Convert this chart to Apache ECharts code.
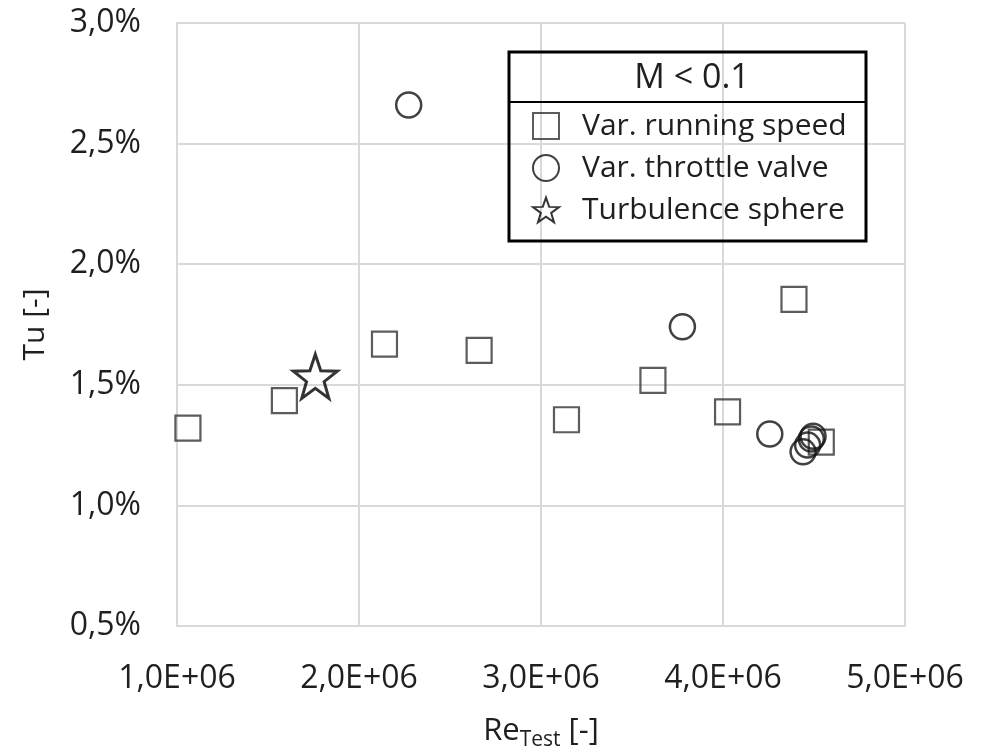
<!DOCTYPE html>
<html>
<head>
<meta charset="utf-8">
<script src="https://cdn.jsdelivr.net/npm/echarts@6/dist/echarts.min.js"></script>
<style>html,body{margin:0;padding:0;background:#fff}#c{width:994px;height:756px}</style>
</head>
<body>
<div id="c"></div>
<script>
// Data (Re in absolute units, Tu in percent)
var squareX = [1.06e6, 1.59e6, 2.14e6, 2.66e6, 3.14e6, 3.615e6, 4.025e6, 4.39e6, 4.54e6];
var squareY = [1.32, 1.434, 1.669, 1.643, 1.355, 1.518, 1.388, 1.854, 1.262];
var circleX = [2.273e6, 3.777e6, 4.257e6, 4.44e6, 4.465e6, 4.485e6, 4.495e6];
var circleY = [2.66, 1.741, 1.296, 1.222, 1.25, 1.275, 1.287];
var starX = [1.76e6];
var starY = [1.535];
var seriesNames = ['Var. running speed', 'Var. throttle valve', 'Turbulence sphere'];
var legendTitle = 'M < 0.1';
var xMin = 1e6, xMax = 5e6, xStep = 1e6;
var yMin = 0.5, yMax = 3.0, yStep = 0.5;

function zip(a, b) { return a.map(function (v, i) { return [v, b[i]]; }); }
var FONT = '"Open Sans", Lato, sans-serif';
var TXT = '#1f1f1f';
var starPath = 'path://M50 2 L61.76 35.82 L97.55 36.55 L69.02 58.18 L79.39 92.45 L50 72 L20.61 92.45 L30.98 58.18 L2.45 36.55 L38.24 35.82 Z';

var chart = echarts.init(document.getElementById('c'), null, { renderer: 'canvas' });
chart.setOption({
  backgroundColor: '#fff',
  animation: false,
  grid: { left: 177, right: 89, top: 23, bottom: 128, containLabel: false },
  xAxis: {
    type: 'value', min: xMin, max: xMax, interval: xStep,
    name: '{a|Re}{b|Test}{a| [-]}', nameLocation: 'middle', nameGap: 86,
    nameTextStyle: { rich: {
      a: { fontSize: 31, fontFamily: FONT, color: TXT },
      b: { fontSize: 21, fontFamily: FONT, color: TXT, verticalAlign: 'bottom', padding: [18, 0, 0, 0] }
    } },
    axisLine: { show: true, lineStyle: { color: '#d9d9d9', width: 2 } },
    axisTick: { show: false },
    splitLine: { show: true, lineStyle: { color: '#d9d9d9', width: 2 } },
    axisLabel: {
      margin: 37, fontSize: 32, fontFamily: FONT, color: TXT,
      formatter: function (v) { return (v / 1e6).toFixed(1).replace('.', ',') + 'E+06'; }
    }
  },
  yAxis: {
    type: 'value', min: yMin, max: yMax, interval: yStep,
    name: 'Tu [-]', nameLocation: 'middle', nameGap: 127, nameRotate: 90,
    nameTextStyle: { fontSize: 30, fontFamily: FONT, color: TXT },
    axisLine: { show: true, lineStyle: { color: '#d9d9d9', width: 2 } },
    axisTick: { show: false },
    splitLine: { show: true, lineStyle: { color: '#d9d9d9', width: 2 } },
    axisLabel: {
      margin: 36, fontSize: 32, fontFamily: FONT, color: TXT,
      formatter: function (v) { return v.toFixed(1).replace('.', ',') + '%'; }
    }
  },
  legend: {
    orient: 'vertical', left: 532, top: 110, padding: 0,
    itemWidth: 26, itemHeight: 26, itemGap: 10,
    textStyle: { fontSize: 30, fontFamily: FONT, color: TXT, padding: [0, 0, 0, 18], lineHeight: 32 },
    data: seriesNames
  },
  graphic: [
    { type: 'rect', shape: { x: 509, y: 52, width: 357, height: 189 }, style: { fill: 'none', stroke: '#000', lineWidth: 3 }, z: 100 },
    { type: 'line', shape: { x1: 509, y1: 102, x2: 866, y2: 102 }, style: { stroke: '#000', lineWidth: 2 }, z: 100 },
    { type: 'text', x: 692, y: 78, style: { text: legendTitle, fontSize: 34, fontFamily: FONT, fill: TXT, align: 'center', verticalAlign: 'middle' }, z: 100 }
  ],
  series: [
    {
      name: seriesNames[0], type: 'scatter', data: zip(squareX, squareY),
      symbol: 'rect', symbolSize: 25,
      itemStyle: { color: 'rgba(0,0,0,0)', borderColor: '#333', borderWidth: 2.2 }
    },
    {
      name: seriesNames[1], type: 'scatter', data: zip(circleX, circleY),
      symbol: 'circle', symbolSize: 25,
      itemStyle: { color: 'rgba(0,0,0,0)', borderColor: '#111', borderWidth: 2.5 }
    },
    {
      name: seriesNames[2], type: 'scatter', data: zip(starX, starY),
      symbol: starPath, symbolSize: 44,
      itemStyle: { color: 'rgba(0,0,0,0)', borderColor: '#000', borderWidth: 3 }
    }
  ]
});
</script>
</body>
</html>
